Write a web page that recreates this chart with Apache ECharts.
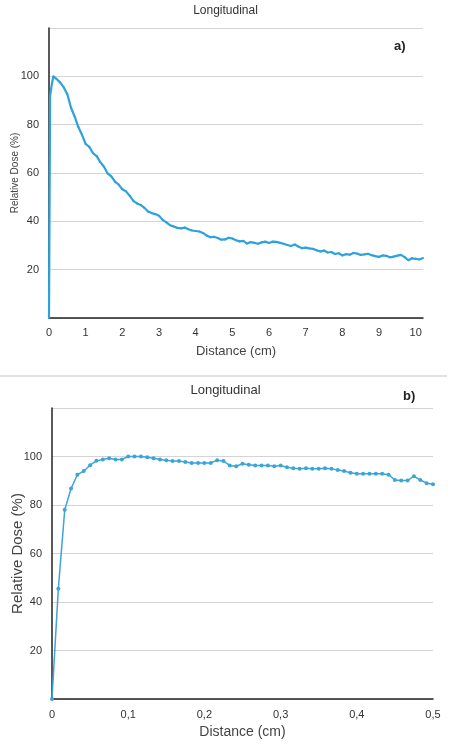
<!DOCTYPE html>
<html>
<head>
<meta charset="utf-8">
<script src="https://cdn.jsdelivr.net/npm/echarts@6/dist/echarts.min.js"></script>
<style>
  html, body { margin: 0; padding: 0; background: #fff; }
  #chart { width: 451px; height: 745px; }
</style>
</head>
<body>
<div id="chart"></div>
<script>
// a) longitudinal profile, 0 - 10.2 cm
var distA = [0, 0.03, 0.08, 0.12, 0.2, 0.3, 0.4, 0.5, 0.6, 0.7, 0.8, 0.9,
    1.0, 1.1, 1.2, 1.3, 1.4, 1.5, 1.6, 1.7, 1.8, 1.9, 2.0, 2.1, 2.2, 2.3, 2.4, 2.5, 2.6, 2.7, 2.8, 2.9,
    3.0, 3.1, 3.2, 3.3, 3.4, 3.5, 3.6, 3.7, 3.8, 3.9, 4.0, 4.1, 4.2, 4.3, 4.4, 4.5, 4.6, 4.7, 4.8, 4.9,
    5.0, 5.1, 5.2, 5.3, 5.4, 5.5, 5.6, 5.7, 5.8, 5.9, 6.0, 6.1, 6.2, 6.3, 6.4, 6.5, 6.6, 6.7, 6.8, 6.9,
    7.0, 7.1, 7.2, 7.3, 7.4, 7.5, 7.6, 7.7, 7.8, 7.9, 8.0, 8.1, 8.2, 8.3, 8.4, 8.5, 8.6, 8.7, 8.8, 8.9,
    9.0, 9.1, 9.2, 9.3, 9.4, 9.5, 9.6, 9.7, 9.8, 9.9, 10.0, 10.1, 10.2];
var doseA = [0, 92, 97, 100, 99, 97.5, 95.5, 92.6, 87, 83.4, 79, 75.8,
    72, 70.8, 68.2, 67.0, 64.5, 62.6, 59.8, 58.6, 56.4, 55.2, 53.3, 52.4, 50.6, 48.5, 47.4, 46.8, 45.6, 44.1, 43.4, 43.0,
    42.3, 40.6, 39.6, 38.4, 37.9, 37.3, 37.1, 37.4, 36.7, 36.2, 36.0, 35.8, 35.2, 34.1, 33.4, 33.6, 33.1, 32.4, 32.5, 33.2,
    32.9, 32.2, 31.7, 31.9, 30.8, 31.4, 31.1, 30.7, 31.3, 31.6, 31.0, 31.6, 31.5, 31.1, 30.7, 30.2, 29.8, 30.4, 29.6, 28.9,
    29.1, 28.8, 28.6, 28.0, 27.5, 27.9, 27.1, 27.3, 26.5, 26.8, 25.9, 26.4, 26.2, 26.9, 26.7, 26.1, 26.3, 26.6, 26.0, 25.6,
    25.3, 25.9, 25.7, 25.1, 25.4, 25.8, 26.1, 25.2, 23.9, 24.7, 24.5, 24.2, 24.8];

// b) build-up region, 0 - 0.5 cm
var distB = [0, 0.0083, 0.0167, 0.025, 0.0333, 0.0417, 0.05, 0.0583, 0.0667, 0.075, 0.0833, 0.0917, 0.1, 0.1083,
    0.1167, 0.125, 0.1333, 0.1417, 0.15, 0.1583, 0.1667, 0.175, 0.1833, 0.1917, 0.2, 0.2083, 0.2167, 0.225, 0.2333,
    0.2417, 0.25, 0.2583, 0.2667, 0.275, 0.2833, 0.2917, 0.3, 0.3083, 0.3167, 0.325, 0.3333, 0.3417, 0.35, 0.3583,
    0.3667, 0.375, 0.3833, 0.3917, 0.4, 0.4083, 0.4167, 0.425, 0.4333, 0.4417, 0.45, 0.4583, 0.4667, 0.475, 0.4833,
    0.4917, 0.5];
var doseB = [0, 45.5, 78, 86.8, 92.5, 94, 96.4, 98.2, 98.8, 99.3, 98.8, 98.8, 100, 100, 100, 99.7, 99.3, 98.8, 98.5,
    98.1, 98.1, 97.7, 97.3, 97.3, 97.3, 97.3, 98.5, 98.1, 96.3, 96, 97, 96.6, 96.3, 96.3, 96.3, 96, 96.3, 95.6, 95.2,
    94.9, 95.2, 94.9, 94.9, 95.2, 94.9, 94.4, 94, 93.3, 92.9, 92.9, 92.9, 92.9, 92.9, 92.5, 90.3, 90.1, 90.1, 91.9,
    90.3, 89, 88.6];

var yTicks = [20, 40, 60, 80, 100];

function zip(xs, ys) {
    return xs.map(function (x, i) { return [x, ys[i]]; });
}

var myChart = echarts.init(document.getElementById('chart'), null, { renderer: 'canvas' });

var fuente = 'Liberation Sans, Arial, sans-serif';

function yAxisCfg(idx, nameSize, nameGap) {
    return {
        gridIndex: idx,
        type: 'value',
        min: 0,
        max: 120,
        interval: 20,
        name: 'Relative Dose (%)',
        nameLocation: 'middle',
        nameGap: nameGap,
        nameMoveOverlap: false,
        nameTextStyle: { fontFamily: fuente, fontSize: nameSize, color: '#444' },
        axisLine: { show: true, lineStyle: { color: '#222', width: 1.5 } },
        axisTick: { show: false },
        axisLabel: {
            fontFamily: fuente, fontSize: 11, color: '#333', margin: 10,
            formatter: function (v) { return yTicks.indexOf(v) >= 0 ? String(v) : ''; }
        },
        splitLine: { show: true, lineStyle: { color: '#d4d4d4', width: 1 } }
    };
}

var option = {
    animation: false,
    title: [
        { text: 'Longitudinal', left: 'center', top: 0, textStyle: { fontFamily: fuente, fontSize: 12, fontWeight: 'normal', color: '#333' } },
        { text: 'a)', left: 389, top: 35, textStyle: { fontFamily: fuente, fontSize: 13, fontWeight: 'bold', color: '#222' } },
        { text: 'Longitudinal', left: 'center', top: 379, textStyle: { fontFamily: fuente, fontSize: 13, fontWeight: 'normal', color: '#333' } },
        { text: 'b)', left: 398, top: 385, textStyle: { fontFamily: fuente, fontSize: 13, fontWeight: 'bold', color: '#222' } }
    ],
    graphic: [
        { type: 'line', shape: { x1: 0, y1: 376, x2: 447, y2: 376 }, style: { stroke: '#d8d8d8', lineWidth: 1.5 } }
    ],
    grid: [
        { left: 49, top: 28, right: 28, height: 290, outerBoundsMode: 'none' },
        { left: 52, top: 408, right: 18, height: 291, outerBoundsMode: 'none' }
    ],
    xAxis: [
        {
            gridIndex: 0,
            type: 'value',
            min: 0,
            max: 10.2,
            interval: 1,
            name: 'Distance (cm)',
            nameLocation: 'middle',
            nameGap: 27,
            nameMoveOverlap: false,
            nameTextStyle: { fontFamily: fuente, fontSize: 13, color: '#444' },
            axisLine: { lineStyle: { color: '#222', width: 1.5 } },
            axisTick: { show: false },
            axisLabel: {
                fontFamily: fuente, fontSize: 11, color: '#333', margin: 9,
                formatter: function (v) { return Number.isInteger(v) ? String(v) : ''; }
            },
            splitLine: { show: false }
        },
        {
            gridIndex: 1,
            type: 'value',
            min: 0,
            max: 0.5,
            interval: 0.1,
            name: 'Distance (cm)',
            nameLocation: 'middle',
            nameGap: 26,
            nameMoveOverlap: false,
            nameTextStyle: { fontFamily: fuente, fontSize: 14, color: '#444' },
            axisLine: { lineStyle: { color: '#222', width: 1.5 } },
            axisTick: { show: false },
            axisLabel: {
                fontFamily: fuente, fontSize: 11, color: '#333', margin: 10,
                formatter: function (v) { return v === 0 ? '0' : v.toFixed(1).replace('.', ','); }
            },
            splitLine: { show: false }
        }
    ],
    yAxis: [
        yAxisCfg(0, 10, 29),
        yAxisCfg(1, 15, 27)
    ],
    series: [
        {
            type: 'line',
            xAxisIndex: 0,
            yAxisIndex: 0,
            data: zip(distA, doseA),
            symbol: 'circle',
            symbolSize: 2,
            lineStyle: { color: '#2ea2dd', width: 2.2 },
            itemStyle: { color: '#2ea2dd' }
        },
        {
            type: 'line',
            xAxisIndex: 1,
            yAxisIndex: 1,
            data: zip(distB, doseB),
            symbol: 'circle',
            symbolSize: 4,
            lineStyle: { color: '#3ba5d8', width: 1.5 },
            itemStyle: { color: '#3ba5d8' }
        }
    ]
};

myChart.setOption(option);
window.addEventListener('resize', myChart.resize);
</script>
</body>
</html>
